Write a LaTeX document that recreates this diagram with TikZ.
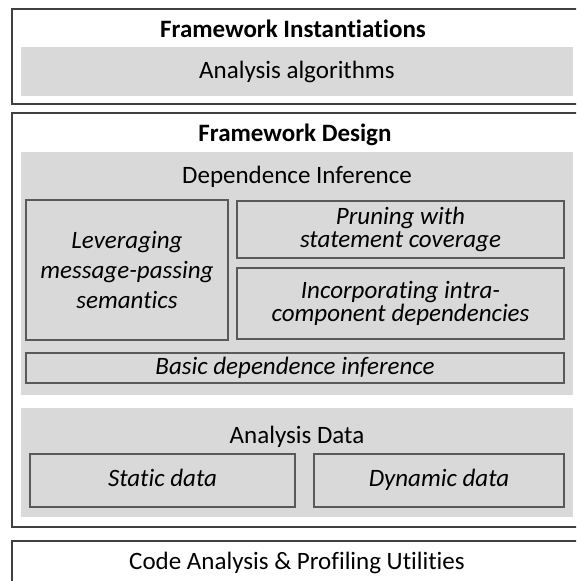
\documentclass[tikz,border=0pt]{standalone}
\usepackage{fontspec}
\setmainfont{Carlito}[RawFeature={-liga;-clig;-dlig;-calt}]
\definecolor{framegray}{HTML}{404040}
\definecolor{itemgray}{HTML}{595959}
\definecolor{panelgray}{HTML}{D9D9D9}

\begin{document}
\begin{tikzpicture}[x=1pt, y=-1pt,
    layerbox/.style={rectangle, draw=framegray, line width=2.5pt, inner sep=0pt},
    graypanel/.style={rectangle, fill=panelgray, inner sep=0pt},
    itembox/.style={rectangle, draw=itemgray, line width=1.3pt, fill=panelgray, inner sep=0pt, align=center, font=\fontsize{25}{30}\selectfont\itshape},
    oneline/.style={text height=17pt, text depth=5pt},
    headtext/.style={anchor=base, inner sep=0pt, font=\fontsize{25}{30}\selectfont\bfseries},
    bodytext/.style={anchor=base, inner sep=0pt, font=\fontsize{25}{30}\selectfont}]
    \path[use as bounding box, clip] (0,0) rectangle (576,581);
    \node[layerbox, minimum width=570, minimum height=95] at (297,56.5) (inst) {};
    \node[headtext] at (293,37) (instTitle) {Framework Instantiations};
    \node[graypanel, minimum width=552, minimum height=49] at (297,71.5) (algoPanel) {};
    \node[bodytext] at (297,78) (algoText) {Analysis algorithms};
    \node[layerbox, minimum width=570, minimum height=414] at (297,320) (design) {};
    \node[headtext] at (295,141.5) (designTitle) {Framework Design};
    \node[graypanel, minimum width=552, minimum height=243] at (297,273.5) (depPanel) {};
    \node[bodytext] at (297,183) (depText) {Dependence Inference};
    \node[itembox, minimum width=202, minimum height=140] at (127,270) (leverage) {Leveraging\\message-passing\\semantics};
    \node[itembox, minimum width=327, minimum height=57, font=\fontsize{25}{23.5}\selectfont\itshape] at (400.5,229.5) (prune) {Pruning with\\statement coverage};
    \node[itembox, minimum width=327, minimum height=71, font=\fontsize{25}{23}\selectfont\itshape] at (400.5,303.5) (intra) {Incorporating intra-\\component dependencies};
    \node[itembox, oneline, minimum width=538, minimum height=30] at (295,368) (basic) {Basic dependence inference};
    \node[graypanel, minimum width=552, minimum height=109] at (297,462.5) (dataPanel) {};
    \node[bodytext] at (297,443) (dataText) {Analysis Data};
    \node[itembox, oneline, minimum width=265, minimum height=53] at (162.5,480.5) (static) {Static data};
    \node[itembox, oneline, minimum width=250, minimum height=53] at (439,480.5) (dynamic) {Dynamic data};
    \node[layerbox, minimum width=570, minimum height=70] at (297,576) (utils) {};
    \node[bodytext] at (297,569) (utilsText) {Code Analysis \& Profiling Utilities};
\end{tikzpicture}
\end{document}
